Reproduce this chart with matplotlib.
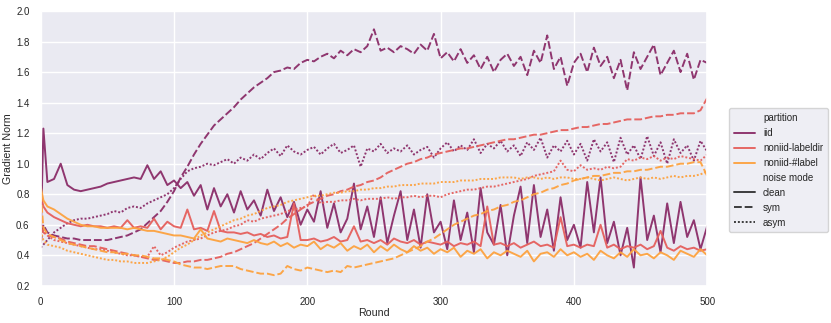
import pandas as pd
import matplotlib
matplotlib.use("Agg")
import matplotlib.pyplot as plt
import seaborn as sns

# rounds the values below were read at (round 0, round 2, then every 5 rounds)
rounds = [0, 2] + list(range(5, 501, 5))

partitions = ["iid", "noniid-labeldir", "noniid-#label"]
noise_modes = ["clean", "sym", "asym"]
colors = ["#8a2c68", "#e55f5c", "#fda23f"]

iid_clean = [0.50, 1.23,
             0.88, 0.90, 1.00, 0.86, 0.83, 0.82, 0.83, 0.84, 0.85, 0.87,
             0.88, 0.89, 0.90, 0.91, 0.90, 0.99, 0.90, 0.95, 0.86, 0.89,
             0.84, 0.88, 0.79, 0.86, 0.70, 0.84, 0.72, 0.80, 0.68, 0.82,
             0.70, 0.76, 0.66, 0.83, 0.69, 0.78, 0.65, 0.75, 0.60, 0.70,
             0.62, 0.82, 0.58, 0.74, 0.55, 0.64, 0.87, 0.57, 0.72, 0.52,
             0.78, 0.48, 0.66, 0.82, 0.50, 0.70, 0.45, 0.80, 0.55, 0.62,
             0.44, 0.76, 0.50, 0.68, 0.42, 0.84, 0.55, 0.47, 0.73, 0.40,
             0.66, 0.85, 0.48, 0.86, 0.52, 0.70, 0.43, 0.78, 0.50, 0.60,
             0.45, 0.88, 0.55, 0.91, 0.48, 0.62, 0.40, 0.58, 0.32, 0.91,
             0.50, 0.66, 0.42, 0.74, 0.48, 0.75, 0.52, 0.63, 0.44, 0.59]
iid_sym = [0.48, 0.60,
           0.55, 0.53, 0.52, 0.51, 0.51, 0.50, 0.50, 0.50, 0.50, 0.50,
           0.51, 0.52, 0.53, 0.55, 0.57, 0.61, 0.65, 0.69, 0.75, 0.82,
           0.91, 0.98, 1.06, 1.13, 1.19, 1.25, 1.29, 1.33, 1.37, 1.42,
           1.46, 1.50, 1.53, 1.56, 1.60, 1.61, 1.63, 1.62, 1.66, 1.68,
           1.67, 1.70, 1.72, 1.69, 1.74, 1.71, 1.75, 1.73, 1.77, 1.88,
           1.74, 1.76, 1.73, 1.77, 1.75, 1.72, 1.78, 1.74, 1.85, 1.69,
           1.73, 1.67, 1.75, 1.66, 1.71, 1.62, 1.70, 1.60, 1.68, 1.72,
           1.64, 1.70, 1.58, 1.74, 1.66, 1.84, 1.62, 1.70, 1.51, 1.66,
           1.72, 1.60, 1.76, 1.64, 1.70, 1.56, 1.68, 1.48, 1.73, 1.62,
           1.70, 1.78, 1.58, 1.66, 1.74, 1.60, 1.72, 1.55, 1.68, 1.66]
iid_asym = [0.45, 0.47,
            0.50, 0.55, 0.58, 0.61, 0.63, 0.64, 0.64, 0.65, 0.66, 0.67,
            0.69, 0.68, 0.71, 0.72, 0.71, 0.74, 0.76, 0.78, 0.80, 0.84,
            0.90, 0.95, 0.97, 0.98, 1.00, 0.99, 1.01, 1.03, 1.00, 1.04,
            1.02, 1.06, 1.03, 1.07, 1.10, 1.05, 1.12, 1.08, 1.06, 1.09,
            1.11, 1.06, 1.10, 1.13, 1.07, 1.09, 1.12, 0.98, 1.10, 1.08,
            1.13, 1.07, 1.10, 1.08, 1.12, 1.06, 1.09, 1.11, 1.04, 1.10,
            1.14, 1.08, 1.12, 1.09, 1.16, 1.07, 1.13, 1.10, 1.15, 1.08,
            1.12, 1.05, 1.14, 1.09, 1.17, 1.04, 1.12, 1.08, 1.15, 1.06,
            1.13, 1.02, 1.16, 1.08, 1.14, 1.01, 1.17, 1.06, 1.12, 1.03,
            1.18, 1.05, 1.14, 1.00, 1.16, 1.07, 1.12, 1.02, 1.15, 1.08]
labeldir_clean = [0.80, 0.72,
                  0.68, 0.65, 0.63, 0.61, 0.60, 0.59, 0.60, 0.59, 0.59, 0.58,
                  0.59, 0.58, 0.63, 0.58, 0.59, 0.58, 0.64, 0.57, 0.62, 0.59,
                  0.58, 0.70, 0.57, 0.58, 0.56, 0.69, 0.56, 0.55, 0.55, 0.54,
                  0.55, 0.53, 0.54, 0.52, 0.53, 0.51, 0.52, 0.74, 0.50, 0.50,
                  0.51, 0.49, 0.50, 0.52, 0.49, 0.50, 0.59, 0.49, 0.50, 0.48,
                  0.50, 0.47, 0.51, 0.49, 0.48, 0.50, 0.47, 0.49, 0.48, 0.47,
                  0.49, 0.46, 0.48, 0.47, 0.49, 0.46, 0.72, 0.47, 0.48, 0.46,
                  0.48, 0.45, 0.47, 0.49, 0.46, 0.47, 0.45, 0.65, 0.46, 0.47,
                  0.45, 0.47, 0.46, 0.60, 0.45, 0.47, 0.44, 0.46, 0.45, 0.47,
                  0.44, 0.46, 0.56, 0.45, 0.43, 0.46, 0.44, 0.45, 0.43, 0.44]
labeldir_sym = [0.58, 0.55,
                0.53, 0.52, 0.51, 0.49, 0.48, 0.47, 0.46, 0.46, 0.45, 0.44,
                0.43, 0.42, 0.41, 0.40, 0.39, 0.38, 0.37, 0.37, 0.36, 0.35,
                0.35, 0.36, 0.36, 0.37, 0.37, 0.38, 0.39, 0.41, 0.42, 0.44,
                0.46, 0.48, 0.51, 0.54, 0.57, 0.60, 0.64, 0.67, 0.70, 0.73,
                0.75, 0.77, 0.79, 0.80, 0.82, 0.83, 0.85, 0.86, 0.88, 0.89,
                0.91, 0.94, 0.96, 0.98, 1.00, 1.01, 1.03, 1.04, 1.06, 1.07,
                1.08, 1.09, 1.10, 1.10, 1.11, 1.12, 1.13, 1.14, 1.15, 1.16,
                1.16, 1.17, 1.18, 1.19, 1.19, 1.20, 1.21, 1.22, 1.22, 1.23,
                1.24, 1.24, 1.25, 1.26, 1.26, 1.27, 1.28, 1.29, 1.29, 1.29,
                1.30, 1.31, 1.31, 1.32, 1.32, 1.33, 1.33, 1.33, 1.35, 1.43]
labeldir_asym = [0.62, 0.56,
                 0.53, 0.50, 0.49, 0.48, 0.47, 0.46, 0.45, 0.44, 0.44, 0.43,
                 0.42, 0.41, 0.40, 0.40, 0.39, 0.39, 0.46, 0.40, 0.42, 0.45,
                 0.47, 0.49, 0.50, 0.51, 0.53, 0.55, 0.56, 0.57, 0.59, 0.60,
                 0.63, 0.62, 0.64, 0.65, 0.66, 0.67, 0.69, 0.70, 0.71, 0.72,
                 0.80, 0.74, 0.75, 0.75, 0.76, 0.76, 0.77, 0.76, 0.77, 0.77,
                 0.77, 0.78, 0.77, 0.78, 0.78, 0.79, 0.78, 0.79, 0.79, 0.78,
                 0.80, 0.81, 0.82, 0.83, 0.83, 0.84, 0.85, 0.85, 0.86, 0.87,
                 0.88, 0.89, 0.90, 0.92, 0.93, 0.94, 0.95, 1.02, 0.96, 0.95,
                 0.99, 0.96, 0.97, 0.96, 0.98, 0.97, 0.98, 1.03, 1.02, 1.04,
                 1.03, 1.05, 1.02, 1.04, 1.03, 1.05, 1.04, 1.03, 1.02, 1.06]
label_clean = [0.85, 0.76,
               0.72, 0.70, 0.67, 0.64, 0.62, 0.60, 0.59, 0.59, 0.58, 0.58,
               0.58, 0.58, 0.57, 0.58, 0.57, 0.56, 0.56, 0.55, 0.54, 0.53,
               0.53, 0.52, 0.51, 0.57, 0.51, 0.50, 0.49, 0.51, 0.50, 0.49,
               0.48, 0.50, 0.48, 0.47, 0.49, 0.46, 0.48, 0.45, 0.47, 0.46,
               0.49, 0.44, 0.47, 0.45, 0.48, 0.43, 0.46, 0.44, 0.47, 0.42,
               0.46, 0.43, 0.47, 0.44, 0.42, 0.46, 0.43, 0.45, 0.41, 0.44,
               0.42, 0.45, 0.39, 0.43, 0.41, 0.44, 0.38, 0.42, 0.40, 0.43,
               0.41, 0.39, 0.43, 0.36, 0.41, 0.42, 0.39, 0.44, 0.40, 0.42,
               0.39, 0.41, 0.37, 0.43, 0.40, 0.38, 0.42, 0.39, 0.44, 0.40,
               0.41, 0.38, 0.42, 0.40, 0.37, 0.43, 0.41, 0.39, 0.44, 0.40]
label_sym = [0.80, 0.58,
             0.54, 0.52, 0.50, 0.48, 0.47, 0.46, 0.45, 0.44, 0.43, 0.42,
             0.42, 0.41, 0.41, 0.40, 0.40, 0.39, 0.38, 0.38, 0.37, 0.36,
             0.34, 0.33, 0.32, 0.32, 0.31, 0.32, 0.33, 0.33, 0.33, 0.31,
             0.30, 0.29, 0.28, 0.28, 0.27, 0.28, 0.33, 0.31, 0.30, 0.32,
             0.31, 0.30, 0.29, 0.30, 0.29, 0.33, 0.32, 0.33, 0.34, 0.35,
             0.36, 0.37, 0.38, 0.40, 0.42, 0.44, 0.46, 0.49, 0.51, 0.54,
             0.57, 0.60, 0.62, 0.64, 0.66, 0.67, 0.69, 0.70, 0.72, 0.73,
             0.75, 0.76, 0.78, 0.80, 0.81, 0.83, 0.84, 0.86, 0.87, 0.89,
             0.90, 0.91, 0.92, 0.92, 0.93, 0.94, 0.94, 0.95, 0.95, 0.96,
             0.96, 0.97, 0.98, 0.98, 0.99, 1.00, 1.00, 1.01, 1.01, 0.92]
label_asym = [0.56, 0.50,
              0.47, 0.46, 0.45, 0.43, 0.42, 0.41, 0.40, 0.39, 0.38, 0.37,
              0.37, 0.36, 0.36, 0.35, 0.35, 0.35, 0.36, 0.37, 0.39, 0.42,
              0.45, 0.47, 0.50, 0.53, 0.55, 0.57, 0.59, 0.61, 0.63, 0.64,
              0.66, 0.67, 0.69, 0.71, 0.72, 0.73, 0.75, 0.76, 0.77, 0.78,
              0.79, 0.79, 0.80, 0.81, 0.81, 0.82, 0.82, 0.83, 0.83, 0.84,
              0.84, 0.85, 0.85, 0.86, 0.86, 0.86, 0.87, 0.87, 0.87, 0.88,
              0.88, 0.88, 0.89, 0.89, 0.89, 0.90, 0.90, 0.90, 0.91, 0.91,
              0.91, 0.90, 0.91, 0.91, 0.90, 0.91, 0.90, 0.91, 0.91, 0.90,
              0.90, 0.91, 0.90, 0.89, 0.90, 0.91, 0.90, 0.89, 0.90, 0.91,
              0.90, 0.91, 0.90, 0.91, 0.92, 0.91, 0.92, 0.92, 0.93, 0.95]

series = {
    ("iid", "clean"): iid_clean,
    ("iid", "sym"): iid_sym,
    ("iid", "asym"): iid_asym,
    ("noniid-labeldir", "clean"): labeldir_clean,
    ("noniid-labeldir", "sym"): labeldir_sym,
    ("noniid-labeldir", "asym"): labeldir_asym,
    ("noniid-#label", "clean"): label_clean,
    ("noniid-#label", "sym"): label_sym,
    ("noniid-#label", "asym"): label_asym,
}

rows = []
for (part, mode), vals in series.items():
    for r, v in zip(rounds, vals):
        rows.append({"Round": r, "Gradient Norm": v, "partition": part, "noise mode": mode})
df = pd.DataFrame(rows)

sns.set_theme(style="darkgrid", font_scale=0.64)
plt.rcParams["font.family"] = ["Liberation Sans", "DejaVu Sans"]

fig, ax = plt.subplots(figsize=(8.31, 3.23), dpi=100)
fig.subplots_adjust(left=0.049, right=0.851, top=0.966, bottom=0.115)

sns.lineplot(data=df, x="Round", y="Gradient Norm", hue="partition", style="noise mode",
             hue_order=partitions, style_order=noise_modes,
             palette=dict(zip(partitions, colors)), linewidth=1.4, alpha=0.95, ax=ax)

ax.set_xlim(0, 500)
ax.set_ylim(0.2, 2.0)
ax.set_yticks([0.2, 0.4, 0.6, 0.8, 1.0, 1.2, 1.4, 1.6, 1.8, 2.0])
ax.tick_params(pad=2)
ax.xaxis.labelpad = 1
ax.yaxis.labelpad = 2
sns.move_legend(ax, "center left", bbox_to_anchor=(1.025, 0.42), title=None,
                frameon=True, handlelength=2.2, borderpad=0.5)

fig.savefig("out.png", dpi=100)
